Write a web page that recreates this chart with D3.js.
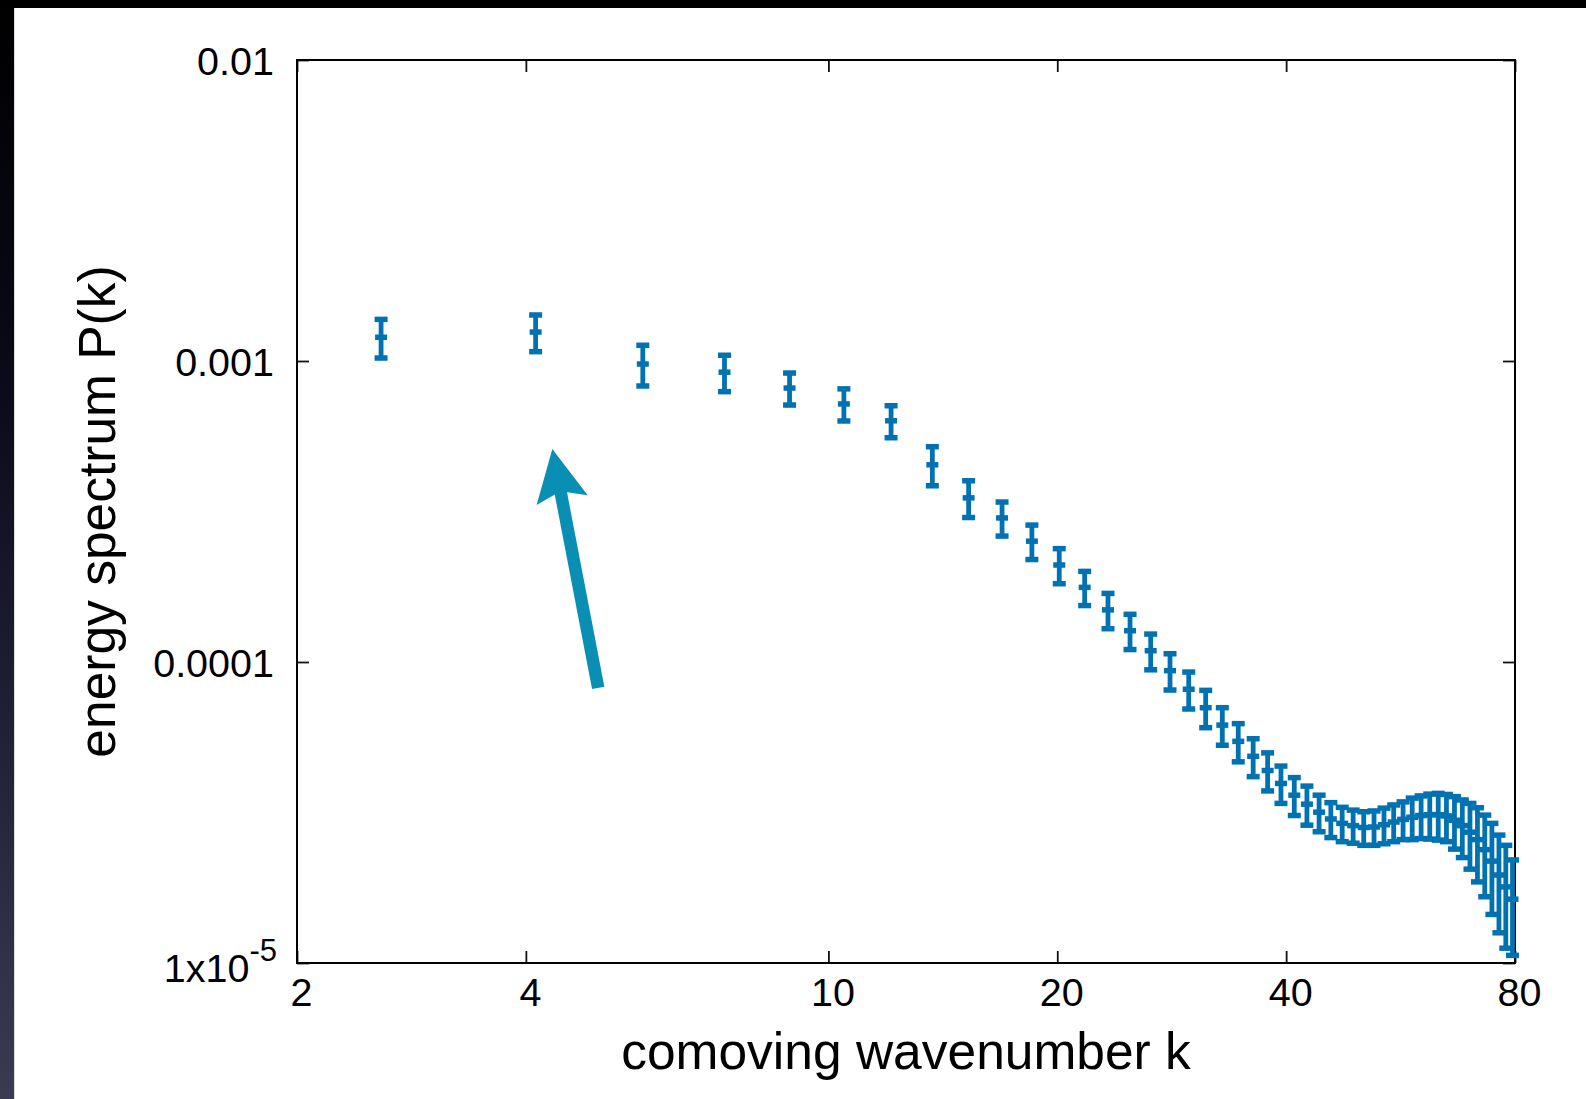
<!DOCTYPE html>
<html>
<head>
<meta charset="utf-8">
<script src="https://cdn.jsdelivr.net/npm/d3@7"></script>
<style>
  body { margin: 0; background: #fff; }
  svg { display: block; }
</style>
</head>
<body>
<script>
// comoving wavenumber k (bin centres)
var kValues = [2.58, 4.12, 5.70, 7.30, 8.89, 10.48, 12.09, 13.70, 15.29, 16.92,
               18.52, 20.12, 21.73, 23.32, 24.93, 26.54, 28.14, 29.78, 31.35, 32.97,
               34.60, 36.20, 37.82, 39.38, 41.00, 42.6, 44.2, 45.8, 47.4, 49.0,
               50.6, 52.2, 53.8, 55.4, 57.0, 58.6, 60.2, 61.8, 63.4, 65.0,
               66.6, 68.2, 69.8, 71.4, 73.0, 74.6, 76.2, 77.8, 79.4];
// energy spectrum P(k)
var pValues = [1.199e-3, 1.248e-3, 9.77e-4, 9.18e-4, 8.13e-4, 7.20e-4, 6.33e-4, 4.52e-4, 3.51e-4, 3.01e-4,
               2.52e-4, 2.10e-4, 1.77e-4, 1.49e-4, 1.27e-4, 1.09e-4, 9.36e-5, 8.12e-5, 7.05e-5, 6.17e-5,
               5.45e-5, 4.86e-5, 4.36e-5, 3.95e-5, 3.61e-5, 3.37e-5, 3.17e-5, 3.01e-5, 2.91e-5, 2.86e-5,
               2.82e-5, 2.83e-5, 2.88e-5, 2.94e-5, 3.00e-5, 3.05e-5, 3.09e-5, 3.11e-5, 3.11e-5, 3.08e-5,
               2.98e-5, 2.86e-5, 2.72e-5, 2.57e-5, 2.38e-5, 2.18e-5, 1.96e-5, 1.79e-5, 1.63e-5];
// error of P(k)
var pErrors = [1.76e-4, 1.74e-4, 1.51e-4, 1.27e-4, 9.9e-5, 8.8e-5, 7.7e-5, 6.7e-5, 4.9e-5, 3.9e-5,
               3.3e-5, 2.8e-5, 2.3e-5, 2.0e-5, 1.7e-5, 1.48e-5, 1.29e-5, 1.14e-5, 1.00e-5, 8.8e-6,
               7.9e-6, 7.0e-6, 6.3e-6, 5.6e-6, 5.2e-6, 5.0e-6, 4.4e-6, 4.0e-6, 3.8e-6, 3.6e-6,
               3.6e-6, 3.7e-6, 3.9e-6, 4.1e-6, 4.3e-6, 4.8e-6, 5.0e-6, 5.3e-6, 5.5e-6, 5.5e-6,
               5.9e-6, 6.2e-6, 6.7e-6, 7.1e-6, 7.2e-6, 7.3e-6, 7.0e-6, 6.7e-6, 5.7e-6];

var xTickValues = [2, 4, 10, 20, 40, 80];
var yTickValues = [1e-5, 1e-4, 1e-3, 1e-2];
var yTickLabels = ['1x10', '0.0001', '0.001', '0.01'];
var yTickSups = ['-5', '', '', ''];

// annotation arrow, in data coordinates (k, P)
var arrowFrom = [4.98, 8.2e-5];
var arrowTo = [4.334, 5.1e-4];

var W = 1586, H = 1099;
var plot = {left: 297, right: 1515, top: 60, bottom: 963};
var barColor = '#0072b2';
var arrowColor = '#0a8fb4';
var font = '"Liberation Sans", Arial, Helvetica, sans-serif';

var svg = d3.select('body').append('svg').attr('width', W).attr('height', H);

// slide background: black band on top, dark strip on the left
var defs = svg.append('defs');
var grad = defs.append('linearGradient').attr('id', 'edge')
    .attr('x1', 0).attr('y1', 0).attr('x2', 0).attr('y2', 1);
grad.append('stop').attr('offset', '0%').attr('stop-color', '#000');
grad.append('stop').attr('offset', '35%').attr('stop-color', '#0a0a1a');
grad.append('stop').attr('offset', '100%').attr('stop-color', '#3a3a52');
svg.append('rect').attr('x', 0).attr('y', 0).attr('width', 14).attr('height', H).attr('fill', 'url(#edge)');
svg.append('rect').attr('x', 0).attr('y', 0).attr('width', W).attr('height', 8).attr('fill', '#000');
svg.append('line').attr('x1', 14.5).attr('x2', 14.5).attr('y1', 8).attr('y2', H)
    .attr('stroke', '#bbb').attr('stroke-width', 1).attr('opacity', 0.5);

var x = d3.scaleLog().domain([2, 80]).range([plot.left, plot.right]);
var y = d3.scaleLog().domain([1e-5, 1e-2]).range([plot.bottom, plot.top]);

// axes, ticks pointing inwards and mirrored on all sides
var gx = svg.append('g').attr('transform', 'translate(0,' + plot.bottom + ')')
    .call(d3.axisBottom(x).tickValues(xTickValues).tickSize(-12).tickPadding(15)
          .tickFormat(d3.format('d')));
var gxTop = svg.append('g').attr('transform', 'translate(0,' + plot.top + ')')
    .call(d3.axisTop(x).tickValues(xTickValues).tickSize(-12).tickFormat(''));
var gy = svg.append('g').attr('transform', 'translate(' + plot.left + ',0)')
    .call(d3.axisLeft(y).tickValues(yTickValues).tickSize(-12).tickPadding(23)
          .tickFormat(function(d, i) { return yTickLabels[i]; }));
var gyRight = svg.append('g').attr('transform', 'translate(' + plot.right + ',0)')
    .call(d3.axisRight(y).tickValues(yTickValues).tickSize(-12).tickFormat(''));

[gx, gxTop, gy, gyRight].forEach(function(g) {
  g.select('.domain').remove();
  g.selectAll('.tick line').attr('stroke', '#111').attr('stroke-width', 1.8);
  g.selectAll('text').attr('fill', '#000').style('font-family', font).style('font-size', '39.5px');
});
gx.selectAll('.tick text').attr('dx', 4);
gy.selectAll('.tick text').attr('dy', '0.36em').each(function(d, i) {
  if (yTickSups[i]) {
    d3.select(this).attr('dy', 18).attr('dx', 3)
      .append('tspan').attr('dy', -21).style('font-size', '31px').text(yTickSups[i]);
  }
});

svg.append('rect')
    .attr('x', plot.left).attr('y', plot.top)
    .attr('width', plot.right - plot.left).attr('height', plot.bottom - plot.top)
    .attr('fill', 'none').attr('stroke', '#000').attr('stroke-width', 2);

// axis titles
svg.append('text')
    .attr('x', (plot.left + plot.right) / 2).attr('y', 1069)
    .attr('text-anchor', 'middle')
    .style('font-family', font).style('font-size', '51.5px')
    .text('comoving wavenumber k');
svg.append('text')
    .attr('transform', 'translate(115,' + (plot.top + plot.bottom) / 2 + ') rotate(-90)')
    .attr('text-anchor', 'middle')
    .style('font-family', font).style('font-size', '51.5px')
    .text('energy spectrum P(k)');

// error bars
var points = kValues.map(function(k, i) {
  return {k: k, p: pValues[i], e: pErrors[i]};
});
var cap = 6.5;
var bars = svg.append('g').attr('stroke', barColor).attr('stroke-width', 5.5).attr('fill', 'none')
    .selectAll('g').data(points).enter().append('g');
bars.append('line')
    .attr('x1', function(d) { return x(d.k); }).attr('x2', function(d) { return x(d.k); })
    .attr('y1', function(d) { return y(d.p + d.e); }).attr('y2', function(d) { return y(d.p - d.e); })
    .attr('stroke-width', 4.8);
bars.append('line')
    .attr('x1', function(d) { return x(d.k) - cap; }).attr('x2', function(d) { return x(d.k) + cap; })
    .attr('y1', function(d) { return y(d.p + d.e); }).attr('y2', function(d) { return y(d.p + d.e); });
bars.append('line')
    .attr('x1', function(d) { return x(d.k) - cap; }).attr('x2', function(d) { return x(d.k) + cap; })
    .attr('y1', function(d) { return y(d.p - d.e); }).attr('y2', function(d) { return y(d.p - d.e); });
bars.append('line')
    .attr('x1', function(d) { return x(d.k) - cap + 0.5; }).attr('x2', function(d) { return x(d.k) + cap - 0.5; })
    .attr('y1', function(d) { return y(d.p); }).attr('y2', function(d) { return y(d.p); });

// arrow
var tail = [x(arrowFrom[0]), y(arrowFrom[1])];
var tip = [x(arrowTo[0]), y(arrowTo[1])];
var len = Math.hypot(tail[0] - tip[0], tail[1] - tip[1]);
var ux = (tail[0] - tip[0]) / len, uy = (tail[1] - tip[1]) / len; // tip -> tail
var nx = uy, ny = -ux;
var headLen = 52, headHalf = 26, notch = 43;
svg.append('line')
    .attr('x1', tail[0]).attr('y1', tail[1])
    .attr('x2', tip[0] + ux * (notch - 2)).attr('y2', tip[1] + uy * (notch - 2))
    .attr('stroke', arrowColor).attr('stroke-width', 12.5);
svg.append('path')
    .attr('d', 'M' + tip[0] + ',' + tip[1] +
          'L' + (tip[0] + ux * headLen + nx * headHalf) + ',' + (tip[1] + uy * headLen + ny * headHalf) +
          'L' + (tip[0] + ux * notch) + ',' + (tip[1] + uy * notch) +
          'L' + (tip[0] + ux * headLen - nx * headHalf) + ',' + (tip[1] + uy * headLen - ny * headHalf) + 'Z')
    .attr('fill', arrowColor);
</script>
</body>
</html>
